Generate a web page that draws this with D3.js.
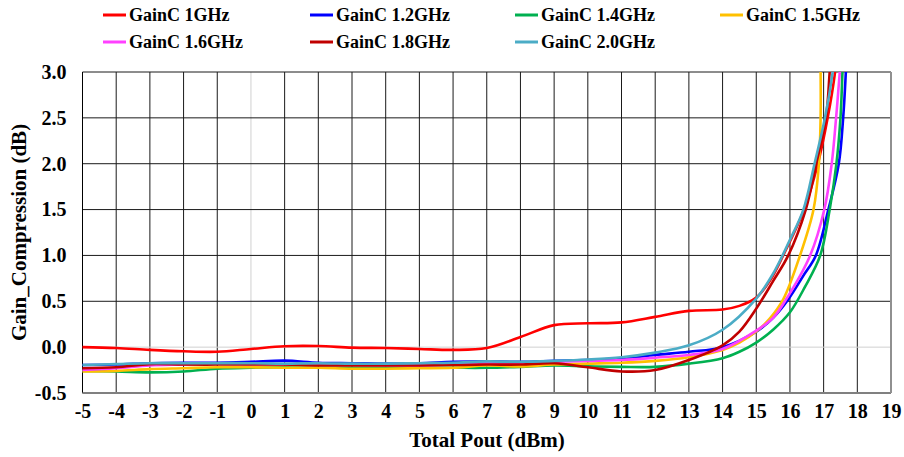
<!DOCTYPE html>
<html>
<head>
<meta charset="utf-8">
<script src="https://cdn.jsdelivr.net/npm/d3@7/dist/d3.min.js"></script>
<style>
  html, body { margin: 0; padding: 0; background: #fff; }
  svg { display: block; }
  svg text { font-family: "Times New Roman", "Liberation Serif", Tinos, "DejaVu Serif", serif !important; font-weight: bold; fill: #000; }
</style>
</head>
<body>
<svg id="chart" width="904" height="457"></svg>
<script>
// ---- data ----
const seriesNames = ["GainC 1GHz", "GainC 1.2GHz", "GainC 1.4GHz", "GainC 1.5GHz", "GainC 1.6GHz", "GainC 1.8GHz", "GainC 2.0GHz"];
const seriesColors = ["#FF0000", "#0000FF", "#00B050", "#FFC000", "#FF40FF", "#C00000", "#4BACC6"];

const gain1GHz = [[-5,0.0],[-4,-0.01],[-3,-0.03],[-2,-0.045],[-1,-0.05],[0,-0.02],[1,0.01],[2,0.012],[3,-0.005],[4,-0.01],[5,-0.02],[6,-0.03],[7,-0.01],[8,0.11],[9,0.24],[10,0.26],[11,0.27],[12,0.33],[13,0.395],[14,0.41],[14.5,0.45],[15,0.54],[15.4,0.72],[15.8,1.0],[16.42,1.5],[16.83,2.0],[17.12,2.5],[17.34,3.0],[17.42,3.3]];
const gain12GHz = [[-5,-0.195],[-4,-0.19],[-3,-0.175],[-2,-0.17],[-1,-0.17],[0,-0.16],[1,-0.147],[2,-0.17],[3,-0.175],[4,-0.18],[5,-0.175],[6,-0.16],[7,-0.155],[8,-0.16],[9,-0.15],[10,-0.14],[11,-0.125],[12,-0.085],[13,-0.05],[14,0.0],[15,0.17],[15.5,0.32],[15.95,0.52],[16.4,0.78],[16.77,1.0],[17.14,1.5],[17.45,2.0],[17.58,2.5],[17.66,3.0],[17.7,3.3]];
const gain14GHz = [[-5,-0.26],[-4,-0.265],[-3,-0.275],[-2,-0.265],[-1,-0.235],[0,-0.225],[1,-0.22],[2,-0.225],[3,-0.225],[4,-0.225],[5,-0.225],[6,-0.225],[7,-0.225],[8,-0.215],[9,-0.2],[10,-0.21],[11,-0.215],[12,-0.215],[13,-0.18],[14,-0.12],[14.5,-0.05],[15,0.05],[15.5,0.19],[16,0.38],[16.45,0.66],[16.9,1.0],[17.18,1.5],[17.38,2.0],[17.5,2.5],[17.56,3.0],[17.6,3.3]];
const gain15GHz = [[-5,-0.265],[-4,-0.26],[-3,-0.24],[-2,-0.23],[-1,-0.22],[0,-0.22],[1,-0.225],[2,-0.225],[3,-0.235],[4,-0.235],[5,-0.23],[6,-0.225],[7,-0.2],[8,-0.21],[9,-0.19],[10,-0.18],[11,-0.17],[12,-0.15],[13,-0.11],[14,-0.03],[14.5,0.05],[15,0.17],[15.4,0.31],[15.8,0.52],[16.3,1.0],[16.7,1.5],[16.86,2.0],[16.91,2.5],[16.91,3.0],[16.9,3.3]];
const gain16GHz = [[-5,-0.25],[-4,-0.23],[-3,-0.2],[-2,-0.19],[-1,-0.18],[0,-0.185],[1,-0.19],[2,-0.19],[3,-0.195],[4,-0.2],[5,-0.2],[6,-0.19],[7,-0.17],[8,-0.17],[9,-0.16],[10,-0.15],[11,-0.14],[12,-0.115],[13,-0.085],[14,-0.02],[15,0.18],[15.5,0.32],[15.85,0.5],[16.6,1.0],[17.02,1.5],[17.24,2.0],[17.37,2.5],[17.48,3.0],[17.54,3.3]];
const gain18GHz = [[-5,-0.23],[-4,-0.22],[-3,-0.185],[-2,-0.19],[-1,-0.19],[0,-0.19],[1,-0.19],[2,-0.2],[3,-0.2],[4,-0.2],[5,-0.2],[6,-0.195],[7,-0.19],[8,-0.19],[9,-0.175],[10,-0.22],[11,-0.265],[12,-0.25],[13,-0.14],[14,0.02],[14.5,0.17],[15,0.42],[15.5,0.72],[15.95,1.0],[16.47,1.5],[16.78,2.0],[17.07,2.5],[17.18,3.0],[17.24,3.3]];
const gain20GHz = [[-5,-0.195],[-4,-0.185],[-3,-0.175],[-2,-0.175],[-1,-0.175],[0,-0.175],[1,-0.18],[2,-0.175],[3,-0.18],[4,-0.18],[5,-0.175],[6,-0.17],[7,-0.155],[8,-0.16],[9,-0.15],[10,-0.135],[11,-0.11],[12,-0.06],[13,0.02],[14,0.19],[15,0.53],[15.5,0.8],[16,1.17],[16.4,1.5],[16.73,2.0],[17.04,2.5],[17.27,3.0],[17.36,3.3]];

const xTicks = [-5,-4,-3,-2,-1,0,1,2,3,4,5,6,7,8,9,10,11,12,13,14,15,16,17,18,19];
const yTicks = [-0.5,0.0,0.5,1.0,1.5,2.0,2.5,3.0];
const xTitle = "Total Pout (dBm)";
const yTitle = "Gain_Compression (dB)";

const seriesData = [gain1GHz, gain12GHz, gain14GHz, gain15GHz, gain16GHz, gain18GHz, gain20GHz];

// ---- layout ----
const svg = d3.select("#chart");
const plot = { left: 82.5, right: 891, top: 72, bottom: 393 };

const x = d3.scaleLinear().domain([-5, 19]).range([plot.left, plot.right]);
const y = d3.scaleLinear().domain([-0.5, 3.0]).range([plot.bottom, plot.top]);

svg.append("defs").append("clipPath").attr("id", "clip")
  .append("rect").attr("x", plot.left).attr("y", plot.top)
  .attr("width", plot.right - plot.left).attr("height", plot.bottom - plot.top);

// grid
const grid = svg.append("g");
grid.selectAll("line.v").data(xTicks).enter().append("line")
  .attr("x1", d => x(d)).attr("x2", d => x(d))
  .attr("y1", plot.top).attr("y2", plot.bottom)
  .attr("stroke", d => d === 0 ? "#d0d0d0" : "#1a1a1a")
  .attr("stroke-width", 1);
grid.selectAll("line.h").data(yTicks).enter().append("line")
  .attr("x1", plot.left).attr("x2", plot.right)
  .attr("y1", d => y(d)).attr("y2", d => y(d))
  .attr("stroke", d => d === 0 ? "#d0d0d0" : "#1a1a1a")
  .attr("stroke-width", 1);
svg.append("line").attr("x1", plot.left).attr("x2", plot.left).attr("y1", plot.top).attr("y2", plot.bottom).attr("stroke", "#000").attr("stroke-width", 1);
svg.append("line").attr("x1", plot.left).attr("x2", plot.right).attr("y1", plot.bottom).attr("y2", plot.bottom).attr("stroke", "#808080").attr("stroke-width", 2);
svg.append("line").attr("x1", plot.right).attr("x2", plot.right).attr("y1", plot.top).attr("y2", plot.bottom).attr("stroke", "#909090").attr("stroke-width", 2);

const hyph = s => s.replace("\u2212", "-");

const xAxis = d3.axisBottom(x).tickValues(xTicks).tickFormat(d => hyph(d3.format("d")(d))).tickSize(0).tickPadding(0);
const gx = svg.append("g").attr("transform", `translate(0,${plot.bottom + 11})`).call(xAxis);
gx.select(".domain").remove();
gx.selectAll("text").attr("font-size", 20).attr("dy", "0.71em");

const yAxis = d3.axisLeft(y).tickValues(yTicks).tickFormat(d => hyph(d3.format(".1f")(d))).tickSize(0).tickPadding(0);
const gy = svg.append("g").attr("transform", `translate(${plot.left - 16},0)`).call(yAxis);
gy.select(".domain").remove();
gy.selectAll("text").attr("font-size", 20);

svg.append("text").attr("x", 487).attr("y", 447)
  .attr("text-anchor", "middle").attr("font-size", 21).text(xTitle);
svg.append("text").attr("transform", `translate(26,${(plot.top + plot.bottom) / 2}) rotate(-90)`)
  .attr("text-anchor", "middle").attr("font-size", 21).text(yTitle);

const line = d3.line().x(d => x(d[0])).y(d => y(d[1])).curve(d3.curveCatmullRom.alpha(0.5));
const lines = svg.append("g").attr("clip-path", "url(#clip)");
seriesData.forEach((s, i) => {
  lines.append("path").datum(s).attr("d", line)
    .attr("fill", "none").attr("stroke", seriesColors[i]).attr("stroke-width", 2.6)
    .attr("stroke-linejoin", "round").attr("stroke-linecap", "round");
});

const legendCols = [103, 310, 515, 720];
const legendRows = [15, 42];
seriesNames.forEach((name, i) => {
  const cx = legendCols[i % 4], cy = legendRows[Math.floor(i / 4)];
  const g = svg.append("g");
  g.append("line").attr("x1", cx).attr("x2", cx + 23).attr("y1", cy).attr("y2", cy)
    .attr("stroke", seriesColors[i]).attr("stroke-width", 3);
  g.append("text").attr("x", cx + 26).attr("y", cy).attr("dy", "0.35em")
    .attr("font-size", 18).text(name);
});
</script>
</body>
</html>
